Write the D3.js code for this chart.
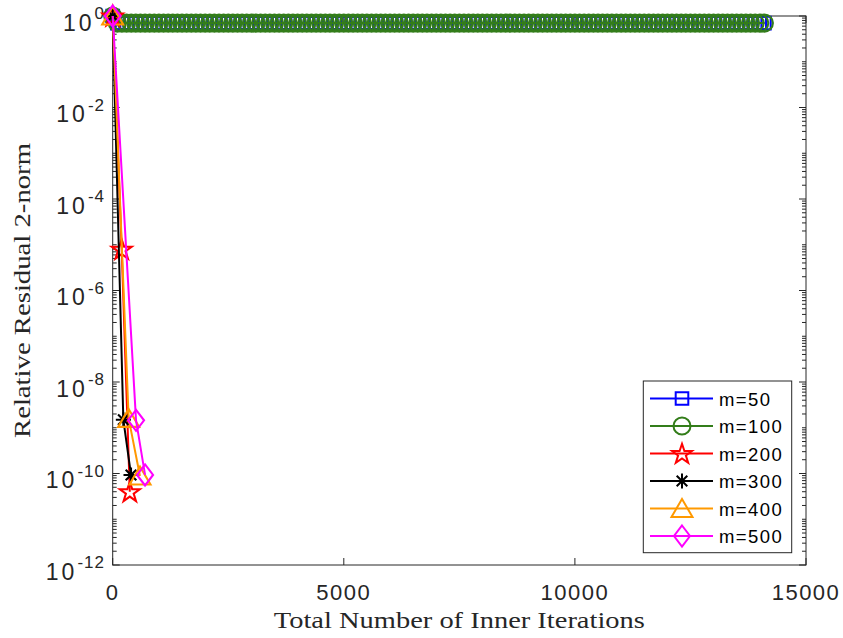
<!DOCTYPE html>
<html>
<head>
<meta charset="utf-8">
<script src="https://cdn.jsdelivr.net/npm/d3@7"></script>
<style>
  body { margin: 0; background: #ffffff; }
  svg { display: block; }
</style>
</head>
<body>
<script>
// Total inner iterations at each restart cycle (stagnating runs)
const innerIters = [
  0,100,200,300,400,500,600,700,800,900,1000,1100,1200,1300,1400,1500,1600,1700,1800,1900,
  2000,2100,2200,2300,2400,2500,2600,2700,2800,2900,3000,3100,3200,3300,3400,3500,3600,3700,3800,3900,
  4000,4100,4200,4300,4400,4500,4600,4700,4800,4900,5000,5100,5200,5300,5400,5500,5600,5700,5800,5900,
  6000,6100,6200,6300,6400,6500,6600,6700,6800,6900,7000,7100,7200,7300,7400,7500,7600,7700,7800,7900,
  8000,8100,8200,8300,8400,8500,8600,8700,8800,8900,9000,9100,9200,9300,9400,9500,9600,9700,9800,9900,
  10000,10100,10200,10300,10400,10500,10600,10700,10800,10900,11000,11100,11200,11300,11400,11500,11600,11700,11800,11900,
  12000,12100,12200,12300,12400,12500,12600,12700,12800,12900,13000,13100,13200,13300,13400,13500,13600,13700,13800,13900,
  14000,14100
];
const res50 = [
  1,0.7,0.7,0.7,0.7,0.7,0.7,0.7,0.7,0.7,0.7,0.7,0.7,0.7,0.7,0.7,0.7,0.7,0.7,0.7,
  0.7,0.7,0.7,0.7,0.7,0.7,0.7,0.7,0.7,0.7,0.7,0.7,0.7,0.7,0.7,0.7,0.7,0.7,0.7,0.7,
  0.7,0.7,0.7,0.7,0.7,0.7,0.7,0.7,0.7,0.7,0.7,0.7,0.7,0.7,0.7,0.7,0.7,0.7,0.7,0.7,
  0.7,0.7,0.7,0.7,0.7,0.7,0.7,0.7,0.7,0.7,0.7,0.7,0.7,0.7,0.7,0.7,0.7,0.7,0.7,0.7,
  0.7,0.7,0.7,0.7,0.7,0.7,0.7,0.7,0.7,0.7,0.7,0.7,0.7,0.7,0.7,0.7,0.7,0.7,0.7,0.7,
  0.7,0.7,0.7,0.7,0.7,0.7,0.7,0.7,0.7,0.7,0.7,0.7,0.7,0.7,0.7,0.7,0.7,0.7,0.7,0.7,
  0.7,0.7,0.7,0.7,0.7,0.7,0.7,0.7,0.7,0.7,0.7,0.7,0.7,0.7,0.7,0.7,0.7,0.7,0.7,0.7,
  0.7,0.7
];
const res100 = [
  1,0.7,0.7,0.7,0.7,0.7,0.7,0.7,0.7,0.7,0.7,0.7,0.7,0.7,0.7,0.7,0.7,0.7,0.7,0.7,
  0.7,0.7,0.7,0.7,0.7,0.7,0.7,0.7,0.7,0.7,0.7,0.7,0.7,0.7,0.7,0.7,0.7,0.7,0.7,0.7,
  0.7,0.7,0.7,0.7,0.7,0.7,0.7,0.7,0.7,0.7,0.7,0.7,0.7,0.7,0.7,0.7,0.7,0.7,0.7,0.7,
  0.7,0.7,0.7,0.7,0.7,0.7,0.7,0.7,0.7,0.7,0.7,0.7,0.7,0.7,0.7,0.7,0.7,0.7,0.7,0.7,
  0.7,0.7,0.7,0.7,0.7,0.7,0.7,0.7,0.7,0.7,0.7,0.7,0.7,0.7,0.7,0.7,0.7,0.7,0.7,0.7,
  0.7,0.7,0.7,0.7,0.7,0.7,0.7,0.7,0.7,0.7,0.7,0.7,0.7,0.7,0.7,0.7,0.7,0.7,0.7,0.7,
  0.7,0.7,0.7,0.7,0.7,0.7,0.7,0.7,0.7,0.7,0.7,0.7,0.7,0.7,0.7,0.7,0.7,0.7,0.7,0.7,
  0.7,0.7
];

// Converging runs
const iters200 = [0, 195, 370];
const res200   = [1, 8e-6, 4e-11];
const iters300 = [0, 230, 396];
const res300   = [1, 1.5e-9, 9.3e-11];
const iters400 = [0, 345, 590];
const res400   = [1, 1.6e-9, 8.8e-11];
const iters500 = [0, 505, 700];
const res500   = [1, 1.45e-9, 9.3e-11];

const seriesLabels = ["m=50", "m=100", "m=200", "m=300", "m=400", "m=500"];
const xTickValues = [0, 5000, 10000, 15000];
const yLabelExponents = [0, -2, -4, -6, -8, -10, -12];

const W = 843, H = 638;
const plotLeft = 112.7, plotRight = 806, plotTop = 16, plotBottom = 565;
const axisColor = "#262626";

const svg = d3.select("body").append("svg")
  .attr("width", W).attr("height", H)
  .attr("viewBox", `0 0 ${W} ${H}`);

const x = d3.scaleLinear().domain([0, 15000]).range([plotLeft, plotRight]);
const y = d3.scaleLog().domain([1e-12, 1]).range([plotBottom, plotTop]);

// Marker shapes
const markerPaths = {
  square: "M-6.3,-6.3H6.3V6.3H-6.3Z",
  circle: d3.arc()({innerRadius: 0, outerRadius: 8.5, startAngle: 0, endAngle: 2 * Math.PI}),
  star: (() => {
    const pts = [];
    for (let i = 0; i < 10; i++) {
      const r = i % 2 === 0 ? 10.5 : 4.1;
      const a = -Math.PI / 2 + i * Math.PI / 5;
      pts.push([r * Math.cos(a), r * Math.sin(a) + 0.8]);
    }
    return "M" + pts.map(p => p.join(",")).join("L") + "Z";
  })(),
  asterisk: "M0,-7.5V7.5M-7.5,0H7.5M-5.3,-5.3L5.3,5.3M-5.3,5.3L5.3,-5.3",
  triangle: "M0,-9.5L10.5,8.5H-10.5Z",
  diamond: "M0,-10.5L8,0L0,10.5L-8,0Z"
};

const series = [
  {label: seriesLabels[0], xs: innerIters, ys: res50,  color: "#0000ff", marker: "square"},
  {label: seriesLabels[1], xs: innerIters, ys: res100, color: "#337d1a", marker: "circle"},
  {label: seriesLabels[2], xs: iters200,   ys: res200, color: "#ff0000", marker: "star"},
  {label: seriesLabels[3], xs: iters300,   ys: res300, color: "#000000", marker: "asterisk"},
  {label: seriesLabels[4], xs: iters400,   ys: res400, color: "#ff9900", marker: "triangle"},
  {label: seriesLabels[5], xs: iters500,   ys: res500, color: "#ff00ff", marker: "diamond"}
];

// Axes box
svg.append("rect")
  .attr("x", plotLeft).attr("y", plotTop)
  .attr("width", plotRight - plotLeft).attr("height", plotBottom - plotTop)
  .attr("fill", "#ffffff").attr("stroke", axisColor).attr("stroke-width", 1);

// X ticks (inside, bottom and top)
const tickG = svg.append("g").attr("stroke", axisColor).attr("stroke-width", 1);
xTickValues.forEach(v => {
  tickG.append("line").attr("x1", x(v)).attr("x2", x(v)).attr("y1", plotBottom).attr("y2", plotBottom - 7);
  tickG.append("line").attr("x1", x(v)).attr("x2", x(v)).attr("y1", plotTop).attr("y2", plotTop + 7);
});

// Y ticks: major at labelled decades, minor elsewhere
const minorVals = [];
for (let k = -12; k < 0; k++) {
  for (let m = 1; m <= 9; m++) {
    if (m === 1 && yLabelExponents.includes(k)) continue;
    minorVals.push(m * Math.pow(10, k));
  }
}
yLabelExponents.forEach(e => {
  const yy = y(Math.pow(10, e));
  tickG.append("line").attr("x1", plotLeft).attr("x2", plotLeft + 7).attr("y1", yy).attr("y2", yy);
  tickG.append("line").attr("x1", plotRight).attr("x2", plotRight - 7).attr("y1", yy).attr("y2", yy);
});
minorVals.forEach(v => {
  const yy = y(v);
  tickG.append("line").attr("x1", plotLeft).attr("x2", plotLeft + 4).attr("y1", yy).attr("y2", yy);
  tickG.append("line").attr("x1", plotRight).attr("x2", plotRight - 4).attr("y1", yy).attr("y2", yy);
});

// X tick labels
const fontSans = "'Liberation Sans', Arial, Helvetica, sans-serif";
svg.append("g").selectAll("text").data(xTickValues).join("text")
  .attr("x", d => x(d)).attr("y", plotBottom + 35)
  .attr("text-anchor", "middle")
  .attr("font-family", fontSans).attr("font-size", 22)
  .attr("letter-spacing", 1.5)
  .attr("fill", axisColor)
  .text(d => d);

// Y tick labels 10^e
const yLab = svg.append("g");
yLabelExponents.forEach(e => {
  const yy = y(Math.pow(10, e));
  const t = yLab.append("text")
    .attr("x", 105).attr("y", yy + 14.5)
    .attr("text-anchor", "end")
    .attr("font-family", fontSans).attr("fill", axisColor);
  t.append("tspan").attr("font-size", 23).attr("letter-spacing", 3).text("10");
  t.append("tspan").attr("font-size", 17).attr("letter-spacing", 1).attr("dy", -11.5)
    .text(e === 0 ? "0" : "-" + Math.abs(e));
});

// Axis titles
const fontSerif = "'Liberation Serif', 'Times New Roman', serif";
svg.append("text")
  .attr("x", (plotLeft + plotRight) / 2).attr("y", 628)
  .attr("text-anchor", "middle")
  .attr("font-family", fontSerif).attr("font-size", 23)
  .attr("textLength", 371).attr("lengthAdjust", "spacingAndGlyphs")
  .attr("fill", axisColor)
  .text("Total Number of Inner Iterations");

svg.append("text")
  .attr("transform", `translate(30,${(plotTop + plotBottom) / 2}) rotate(-90)`)
  .attr("text-anchor", "middle")
  .attr("font-family", fontSerif).attr("font-size", 23)
  .attr("textLength", 295).attr("lengthAdjust", "spacingAndGlyphs")
  .attr("fill", axisColor)
  .text("Relative Residual 2-norm");

// Lines and markers
const line = d3.line().x(d => x(d[0])).y(d => y(d[1]));
const plotG = svg.append("g");
series.forEach(s => {
  const pts = s.xs.map((v, i) => [v, s.ys[i]]);
  const g = plotG.append("g");
  g.append("path").datum(pts)
    .attr("d", line)
    .attr("fill", "none").attr("stroke", s.color).attr("stroke-width", 2)
    .attr("stroke-linejoin", "round");
  g.selectAll("path.mk").data(pts).join("path")
    .attr("class", "mk")
    .attr("transform", d => `translate(${x(d[0])},${y(d[1])})`)
    .attr("d", markerPaths[s.marker])
    .attr("fill", "none").attr("stroke", s.color).attr("stroke-width", 2.1);
});

// Legend
const lg = svg.append("g");
lg.append("rect")
  .attr("x", 643.3).attr("y", 381).attr("width", 148.4).attr("height", 171.7)
  .attr("fill", "#ffffff").attr("stroke", axisColor).attr("stroke-width", 1);
series.forEach((s, i) => {
  const cy = 398.5 + i * 27.5;
  lg.append("line").attr("x1", 650).attr("x2", 713).attr("y1", cy).attr("y2", cy)
    .attr("stroke", s.color).attr("stroke-width", 2);
  lg.append("path").attr("transform", `translate(682,${cy})`)
    .attr("d", markerPaths[s.marker])
    .attr("fill", "none").attr("stroke", s.color).attr("stroke-width", 2);
  lg.append("text")
    .attr("x", 719).attr("y", cy + 7)
    .attr("font-family", fontSans).attr("font-size", 18.5)
    .attr("letter-spacing", 1.4)
    .attr("fill", "#000000")
    .text(s.label);
});
</script>
</body>
</html>
